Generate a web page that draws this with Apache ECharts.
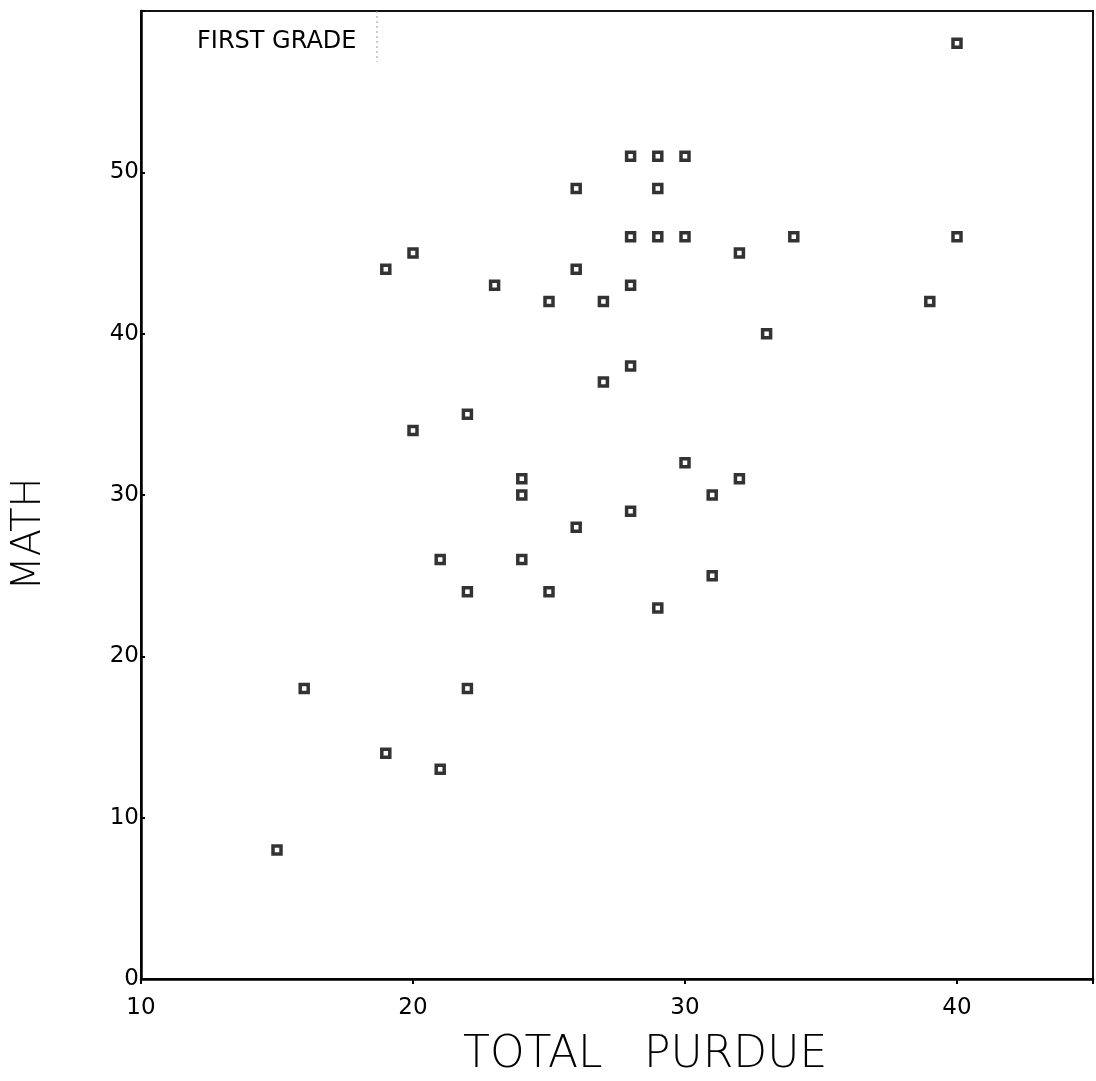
<!DOCTYPE html>
<html>
<head>
<meta charset="utf-8">
<title>First grade</title>
<script src="https://cdn.jsdelivr.net/npm/echarts@6/dist/echarts.min.js"></script>
<style>
	html, body { margin: 0; padding: 0; background: #fff; }
	#chart { width: 1096px; height: 1081px; }
</style>
</head>
<body>
<div id="chart"></div>
<script>
// total purdue score (x) and math score (y), one entry per child
var purdue = [40, 28, 29, 30, 26, 29, 28, 29, 30, 34, 40, 32, 20, 19, 26, 23, 28, 25, 27, 39, 33, 28,
	27, 22, 20, 30, 24, 24, 32, 31, 28, 26, 21, 24, 22, 25, 31, 29, 16, 22, 19, 21, 15];
var math = [58, 51, 51, 51, 49, 49, 46, 46, 46, 46, 46, 45, 45, 44, 44, 43, 43, 42, 42, 42, 40, 38,
	37, 35, 34, 32, 31, 30, 31, 30, 29, 28, 26, 26, 24, 24, 25, 23, 18, 18, 14, 13, 8];
// tick labels
var xTicks = [10, 20, 30, 40];
var yTicks = [0, 10, 20, 30, 40, 50];

var points = [];
for (var i = 0; i < purdue.length; i++) {
	points.push([purdue[i], math[i]]);
}

var font = 'DejaVu Sans';
var titleFont = '200 44px "DejaVu Sans"';

var chart = echarts.init(document.getElementById('chart'), null, { renderer: 'canvas' });
chart.setOption({
	backgroundColor: '#fff',
	animation: false,
	grid: {
		left: 141,
		width: 956,
		top: 11,
		bottom: 102,
		show: true,
		borderColor: '#111',
		borderWidth: 2
	},
	xAxis: {
		type: 'value',
		min: 10,
		max: 45,
		interval: 10,
		axisLine: { show: true, lineStyle: { color: '#000', width: 2.5 } },
		axisTick: { show: true, length: 5, lineStyle: { color: '#000', width: 2 } },
		splitLine: { show: false },
		axisLabel: {
			margin: 18,
			color: '#000',
			fontFamily: font,
			fontSize: 23,
			// only the labelled ticks
			formatter: function (v) { return xTicks.indexOf(v) >= 0 ? v : ''; }
		}
	},
	yAxis: {
		type: 'value',
		min: 0,
		max: 60,
		interval: 10,
		axisLine: { show: true, lineStyle: { color: '#000', width: 2.5 } },
		axisTick: { show: true, inside: true, length: 4, lineStyle: { color: '#000', width: 2 } },
		splitLine: { show: false },
		axisLabel: {
			margin: 2,
			color: '#000',
			fontFamily: font,
			fontSize: 23,
			formatter: function (v) { return yTicks.indexOf(v) >= 0 ? v : ''; }
		}
	},
	series: [
		{
			type: 'scatter',
			data: points,
			symbol: 'rect',
			symbolSize: 8,
			itemStyle: { color: '#fff', borderColor: '#000', borderWidth: 3.5 }
		}
	],
	graphic: [
		// panel label in the upper left corner
		{
			type: 'text',
			left: 197,
			top: 30,
			style: { text: 'FIRST GRADE', font: '24px "DejaVu Sans"', fill: '#000' }
		},
		{
			type: 'line',
			shape: { x1: 377, y1: 11, x2: 377, y2: 62 },
			style: { stroke: '#999', lineWidth: 1, lineDash: [2, 3] }
		},
		// axis titles (x title is two words with a wide gap)
		{
			type: 'text',
			x: 463,
			y: 1056,
			style: { text: 'TOTAL', font: titleFont, fill: '#000', textVerticalAlign: 'middle' }
		},
		{
			type: 'text',
			x: 644,
			y: 1056,
			style: { text: 'PURDUE', font: titleFont, fill: '#000', textVerticalAlign: 'middle' }
		},
		{
			type: 'text',
			x: 30,
			y: 534,
			rotation: Math.PI / 2,
			style: {
				text: 'MATH',
				font: '200 40px "DejaVu Sans"',
				fill: '#000',
				textAlign: 'center',
				textVerticalAlign: 'middle'
			}
		}
	]
});
</script>
</body>
</html>
